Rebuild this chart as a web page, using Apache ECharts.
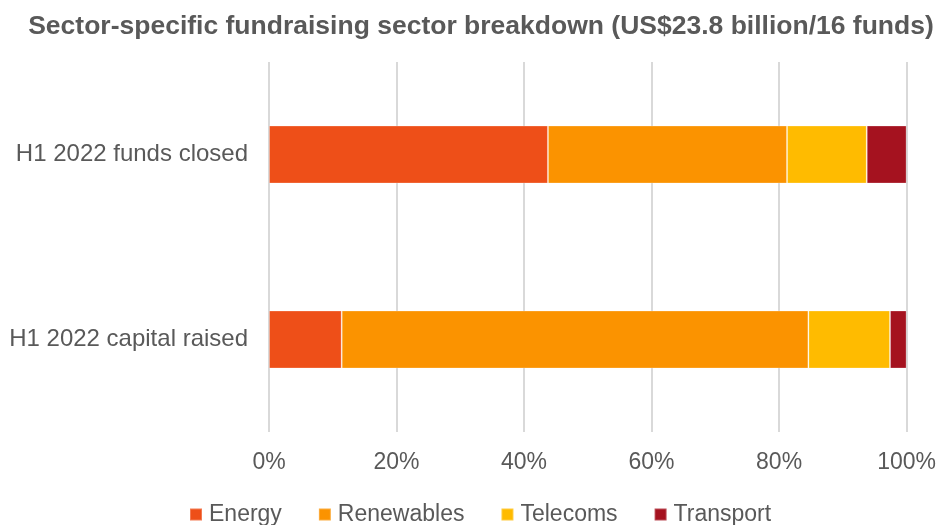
<!DOCTYPE html>
<html>
<head>
<meta charset="utf-8">
<script src="https://cdn.jsdelivr.net/npm/echarts@6/dist/echarts.min.js"></script>
<style>html,body{margin:0;padding:0;background:#fff;}#c{width:939px;height:525px;}</style>
</head>
<body>
<div id="c"></div>
<script>
const categories = ['H1 2022 funds closed', 'H1 2022 capital raised'];
const seriesNames = ['Energy', 'Renewables', 'Telecoms', 'Transport'];
const energy = [43.75, 11.4];
const renewables = [37.5, 73.2];
const telecoms = [12.5, 12.8];
const transport = [6.25, 2.6];
const xTicks = [0, 20, 40, 60, 80, 100];
const colors = ['#EE4F18', '#FB9300', '#FFBB00', '#A5121F'];

const values = [energy, renewables, telecoms, transport];
const FONT = '"Liberation Sans", Arial, sans-serif';
const chart = echarts.init(document.getElementById('c'));
chart.setOption({
  animation: false,
  backgroundColor: '#fff',
  title: {
    text: 'Sector-specific fundraising sector breakdown (US$23.8 billion/16 funds)',
    left: 476, top: 8, textAlign: 'center',
    textStyle: { fontFamily: FONT, fontSize: 26.5, fontWeight: 'bold', color: '#595959' }
  },
  legend: {
    data: seriesNames, left: 189, top: 503, padding: 0, itemWidth: 12, itemHeight: 12, itemGap: 36,
    icon: 'rect',
    textStyle: { fontFamily: FONT, fontSize: 23, color: '#595959', padding: [0, 0, 0, 2] }
  },
  grid: { left: 269, right: 31, top: 62, bottom: 93, containLabel: false },
  xAxis: {
    type: 'value', min: xTicks[0], max: xTicks[xTicks.length - 1], interval: 20,
    axisLine: { show: false }, axisTick: { show: false },
    axisLabel: { formatter: '{value}%', fontFamily: FONT, fontSize: 23, color: '#595959', margin: 19 },
    splitLine: { show: true, lineStyle: { color: '#D9D9D9', width: 2 } }
  },
  yAxis: {
    type: 'category', data: categories, inverse: true,
    axisLine: { show: false }, axisTick: { show: false },
    axisLabel: { fontFamily: FONT, fontSize: 24, color: '#595959', margin: 21 }
  },
  series: seriesNames.map((n, i) => ({
    name: n, type: 'bar', stack: 'total', data: values[i], barWidth: 58,
    itemStyle: { color: colors[i], borderColor: 'rgba(255,255,255,0.25)', borderWidth: 1 }
  }))
});
</script>
</body>
</html>
